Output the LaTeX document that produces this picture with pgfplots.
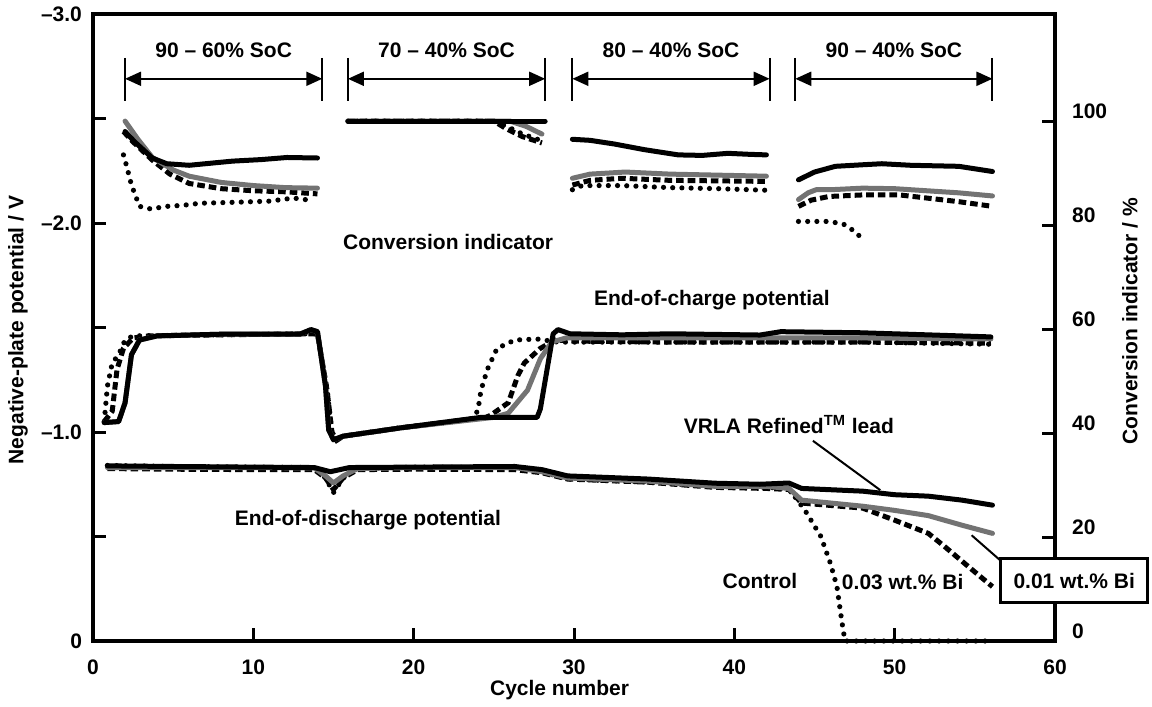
\documentclass[border=0pt]{standalone}
\usepackage{fontspec}
\setmainfont{Liberation Sans}
\usepackage{pgfplots}
\pgfplotsset{compat=1.18}
\usetikzlibrary{arrows.meta}
\definecolor{grayline}{RGB}{115,115,115}
\pgfplotsset{
 blk/.style={black, line width=2.5pt, line join=round, line cap=round},
 gry/.style={grayline, line width=2.5pt, line join=round, line cap=round},
 dsh/.style={black, line width=2.5pt, dash pattern=on 3.8pt off 2pt},
 dtd/.style={black, line width=2.6pt, line cap=round, dash pattern=on 0pt off 4.6pt},
}
\tikzset{
 arr/.style={line width=1pt, {Triangle[length=8pt,width=7pt]}-{Triangle[length=8pt,width=7pt]}},
 bar/.style={line width=1pt},
}
\begin{document}
\begin{tikzpicture}
\path[use as bounding box] (-46.5pt,-33pt) rectangle (529.5pt,320.5pt);
\begin{axis}[
 at={(0,0)}, anchor=south west,
 width=481pt, height=313.5pt, scale only axis,
 xmin=0, xmax=60, ymin=-3, ymax=0, y dir=reverse,
 clip=false,
 font=\bfseries\fontsize{10.5}{12}\selectfont,
 axis line style={line width=2pt},
 tick style={line width=1.5pt, black},
 major tick length=6.5pt,
 tick align=inside,
 xtick pos=bottom, ytick pos=left,
 xtick={0,10,20,30,40,50,60},
 xticklabels={0,10,20,30,40,50,60},
 ytick={-3,-2.5,-2,-1.5,-1,-0.5,0},
 yticklabels={–3.0,,–2.0,,–1.0,,0},
 xticklabel style={font=\bfseries\fontsize{10.5}{12}\selectfont, yshift=-6pt},
 yticklabel style={font=\bfseries\fontsize{10.5}{12}\selectfont, xshift=-2pt},
 xlabel={Cycle number},
 xlabel style={at={(axis description cs:0.485,-0.078)}, anchor=center, font=\bfseries\fontsize{10.5}{12}\selectfont},
 ylabel={Negative-plate potential / V},
 ylabel style={at={(axis description cs:-0.078,0.496)}, anchor=center, font=\bfseries\fontsize{10.5}{12}\selectfont},
]
% ---------- End-of-charge potential ----------
\addplot[dtd] coordinates {(0.7,-1.05) (0.9,-1.22) (1.2,-1.33) (1.6,-1.37) (2.0,-1.44) (2.5,-1.46) (8,-1.465) (13.5,-1.47) (14.0,-1.47) (14.6,-1.2) (14.9,-1.0) (15.2,-0.96) (15.6,-0.98) (19.2,-1.02) (23.5,-1.06) (24.0,-1.10) (24.2,-1.2) (24.6,-1.30) (25.2,-1.40) (26.3,-1.44) (27.7,-1.445) (29,-1.43) (35,-1.43) (42,-1.43) (48,-1.43) (56,-1.42)};
\addplot[dsh] coordinates {(0.7,-1.05) (1.2,-1.1) (1.5,-1.3) (1.9,-1.40) (2.5,-1.45) (3.5,-1.46) (8,-1.465) (13.5,-1.47) (14.0,-1.47) (14.6,-1.2) (14.9,-1.0) (15.2,-0.96) (15.6,-0.98) (19.2,-1.02) (24.5,-1.07) (24.8,-1.08) (25.9,-1.14) (26.5,-1.27) (26.9,-1.33) (27.9,-1.40) (28.8,-1.44) (30,-1.435) (36,-1.43) (42,-1.43) (48,-1.43) (56,-1.425)};
\addplot[gry] coordinates {(0.7,-1.045) (1.6,-1.05) (2.0,-1.14) (2.4,-1.37) (2.9,-1.44) (4.0,-1.46) (8,-1.468) (12.9,-1.468) (13.6,-1.49) (14.0,-1.48) (14.5,-1.22) (14.7,-1.01) (15.0,-0.963) (15.6,-0.98) (19.2,-1.02) (25.0,-1.07) (25.9,-1.09) (27.1,-1.2) (27.9,-1.35) (28.6,-1.43) (29.5,-1.45) (35,-1.45) (42,-1.45) (48,-1.45) (56,-1.445)};
\addplot[blk] coordinates {(0.7,-1.045) (1.6,-1.05) (2.0,-1.14) (2.4,-1.37) (2.9,-1.44) (4.0,-1.46) (8,-1.468) (12.9,-1.468) (13.6,-1.49) (14.0,-1.48) (14.5,-1.22) (14.7,-1.01) (15.0,-0.963) (15.6,-0.98) (19.2,-1.02) (24.2,-1.07) (27.7,-1.07) (27.9,-1.11) (28.7,-1.47) (29.0,-1.49) (29.75,-1.47) (33,-1.465) (36,-1.47) (41.6,-1.464) (42.9,-1.48) (47.8,-1.475) (52,-1.465) (56,-1.455)};
% ---------- End-of-discharge potential ----------
\addplot[dtd] coordinates {(0.9,-0.84) (5,-0.835) (10,-0.832) (13.8,-0.83) (14.5,-0.78) (15.0,-0.71) (15.6,-0.78) (16.5,-0.825) (20,-0.832) (26.3,-0.83) (28,-0.81) (29.6,-0.775) (34.6,-0.76) (38.8,-0.74) (42,-0.735) (43.4,-0.73) (43.75,-0.693) (44.4,-0.626) (45.4,-0.5) (46.0,-0.37) (46.4,-0.26) (46.7,-0.096) (46.9,0) (49,0) (56,0)};
\addplot[dsh] coordinates {(0.9,-0.825) (5,-0.822) (10,-0.82) (13.8,-0.82) (14.5,-0.78) (15.0,-0.725) (15.6,-0.78) (16.5,-0.82) (20,-0.822) (26.3,-0.82) (28,-0.805) (29.6,-0.775) (34.6,-0.76) (38.8,-0.735) (42,-0.73) (43.4,-0.725) (44.2,-0.66) (48,-0.636) (50,-0.578) (52.1,-0.515) (53.1,-0.453) (54.6,-0.356) (56.1,-0.26)};
\addplot[gry] coordinates {(0.9,-0.83) (5,-0.83) (10,-0.83) (13.8,-0.828) (14.5,-0.79) (15.0,-0.756) (15.6,-0.79) (16.5,-0.825) (20,-0.83) (26.3,-0.83) (28,-0.81) (29.6,-0.78) (34.6,-0.765) (38.8,-0.74) (42,-0.74) (43.4,-0.73) (44.2,-0.674) (48,-0.645) (50,-0.625) (52.1,-0.60) (54.2,-0.554) (56.1,-0.515)};
\addplot[blk] coordinates {(0.9,-0.838) (5,-0.835) (10,-0.832) (13.8,-0.83) (14.8,-0.81) (16,-0.83) (20,-0.832) (26.3,-0.835) (28,-0.82) (29.6,-0.79) (34.6,-0.775) (38.8,-0.755) (41.6,-0.75) (43.4,-0.756) (44.2,-0.73) (48,-0.717) (50,-0.70) (52.1,-0.693) (54.2,-0.674) (56.1,-0.65)};
% ---------- window arrows ----------
\draw[bar] (axis cs:2.0,-2.79) -- (axis cs:2.0,-2.585);
\draw[bar] (axis cs:14.3,-2.79) -- (axis cs:14.3,-2.585);
\draw[arr] (axis cs:2.0,-2.69) -- (axis cs:14.3,-2.69);
\node at (axis cs:8.15,-2.826) {90 – 60\% SoC};
\draw[bar] (axis cs:15.9,-2.79) -- (axis cs:15.9,-2.585);
\draw[bar] (axis cs:28.2,-2.79) -- (axis cs:28.2,-2.585);
\draw[arr] (axis cs:15.9,-2.69) -- (axis cs:28.2,-2.69);
\node at (axis cs:22.05,-2.826) {70 – 40\% SoC};
\draw[bar] (axis cs:29.9,-2.79) -- (axis cs:29.9,-2.585);
\draw[bar] (axis cs:42.2,-2.79) -- (axis cs:42.2,-2.585);
\draw[arr] (axis cs:29.9,-2.69) -- (axis cs:42.2,-2.69);
\node at (axis cs:36.05,-2.826) {80 – 40\% SoC};
\draw[bar] (axis cs:43.8,-2.79) -- (axis cs:43.8,-2.585);
\draw[bar] (axis cs:56.1,-2.79) -- (axis cs:56.1,-2.585);
\draw[arr] (axis cs:43.8,-2.69) -- (axis cs:56.1,-2.69);
\node at (axis cs:49.95,-2.826) {90 – 40\% SoC};
\node at (axis cs:22.15,-1.911) {Conversion indicator};
\node at (axis cs:38.6,-1.632) {End-of-charge potential};
\node at (axis cs:43.4,-1.035) {VRLA Refined\textsuperscript{TM} lead};
\draw[line width=1pt] (axis cs:44.9,-0.958) -- (axis cs:49.1,-0.722);
\node at (axis cs:17.15,-0.578) {End-of-discharge potential};
\node at (axis cs:41.6,-0.289) {Control};
\node at (axis cs:50.5,-0.284) {0.03 wt.\% Bi};
\draw[line width=1pt] (axis cs:54.8,-0.506) -- (axis cs:56.6,-0.385);
\coordinate (boxc) at (axis cs:61.2,-0.289);
\end{axis}
\begin{axis}[
 at={(0,0)}, anchor=south west,
 width=481pt, height=313.5pt, scale only axis,
 xmin=0, xmax=60, ymin=0, ymax=120.6,
 axis x line=none, axis y line*=right,
 axis line style={line width=2pt, -},
 tick style={line width=1.5pt, black},
 major tick length=6.5pt,
 tick align=inside,
 ytick pos=right,
 ytick={0,20,40,60,80,100},
 yticklabels={0,20,40,60,80,100},
 yticklabel style={font=\bfseries\fontsize{10.5}{12}\selectfont, xshift=5pt, yshift=5pt, anchor=west},
 ylabel={Conversion indicator / \%},
 ylabel style={at={(axis description cs:1.078,0.51)}, anchor=center, font=\bfseries\fontsize{10.5}{12}\selectfont},
]
% window 1
\addplot[dtd] coordinates {(1.9,93.5) (2.1,91.3) (2.4,87.7) (2.9,83.6) (3.6,83.1) (4.6,83.6) (5.6,83.8) (6.7,84.2) (9,84.4) (11,84.6) (12.5,85.2) (13.5,84.8)};
\addplot[dsh] coordinates {(1.9,98) (2.5,96) (3.7,92.5) (4.8,89.8) (6.0,88) (8,87) (10,86.6) (12,86.4) (14.0,86.0)};
\addplot[gry] coordinates {(2.0,100) (2.8,96.5) (3.7,93) (5,90.6) (6.0,89.4) (8,88.2) (10,87.6) (12,87.2) (14.0,87.1)};
\addplot[blk] coordinates {(2.0,98) (2.6,96) (3.7,92.9) (4.6,91.8) (6.0,91.5) (8.7,92.3) (10.5,92.6) (12.1,93) (14.0,92.9)};
% window 2
\addplot[dtd] coordinates {(15.9,100) (25.0,100) (25.8,99) (26.8,97.5) (28.0,96.2)};
\addplot[dsh] coordinates {(15.9,100) (25.0,100) (25.8,98.5) (26.8,97) (28.0,95.8)};
\addplot[gry] coordinates {(15.9,100) (26.0,100) (27.0,99) (28.0,97.5)};
\addplot[blk] coordinates {(15.9,100) (28.2,100)};
% window 3
\addplot[dtd] coordinates {(29.9,86.8) (30.5,87.6) (33,87.6) (36,87.2) (39,87) (42.0,86.7)};
\addplot[dsh] coordinates {(29.9,87.7) (31,88.6) (33,89) (36,88.6) (39,88.5) (42.0,88.4)};
\addplot[gry] coordinates {(29.9,89) (31,89.8) (33.2,90.2) (36,89.8) (39,89.6) (42.0,89.4)};
\addplot[blk] coordinates {(29.9,96.5) (31.0,96.3) (32.5,95.6) (34.4,94.5) (36.5,93.5) (38,93.4) (39.6,93.8) (41,93.6) (42.0,93.5)};
% window 4
\addplot[dtd] coordinates {(44.0,80.7) (45.9,80.7) (46.8,80.2) (47.5,78.8) (47.8,77.9)};
\addplot[dsh] coordinates {(44.0,83.6) (44.8,84.8) (45.9,85.5) (48,85.8) (50.3,85.8) (52,85.2) (54,84.5) (56.1,83.6)};
\addplot[gry] coordinates {(44.0,84.9) (44.6,86.2) (45.1,86.8) (46,86.8) (48,87.1) (50,87) (52,86.6) (54,86.2) (56.1,85.6)};
\addplot[blk] coordinates {(44.0,88.7) (45,90.2) (46.3,91.3) (48,91.6) (49.2,91.8) (51,91.5) (54,91.3) (56.1,90.3)};
\end{axis}
\node[draw, fill=white, line width=1.5pt, minimum width=73.5pt, minimum height=22pt, inner sep=0pt, font=\bfseries\fontsize{10.5}{12}\selectfont] at (boxc) {0.01 wt.\% Bi};
\end{tikzpicture}
\end{document}
